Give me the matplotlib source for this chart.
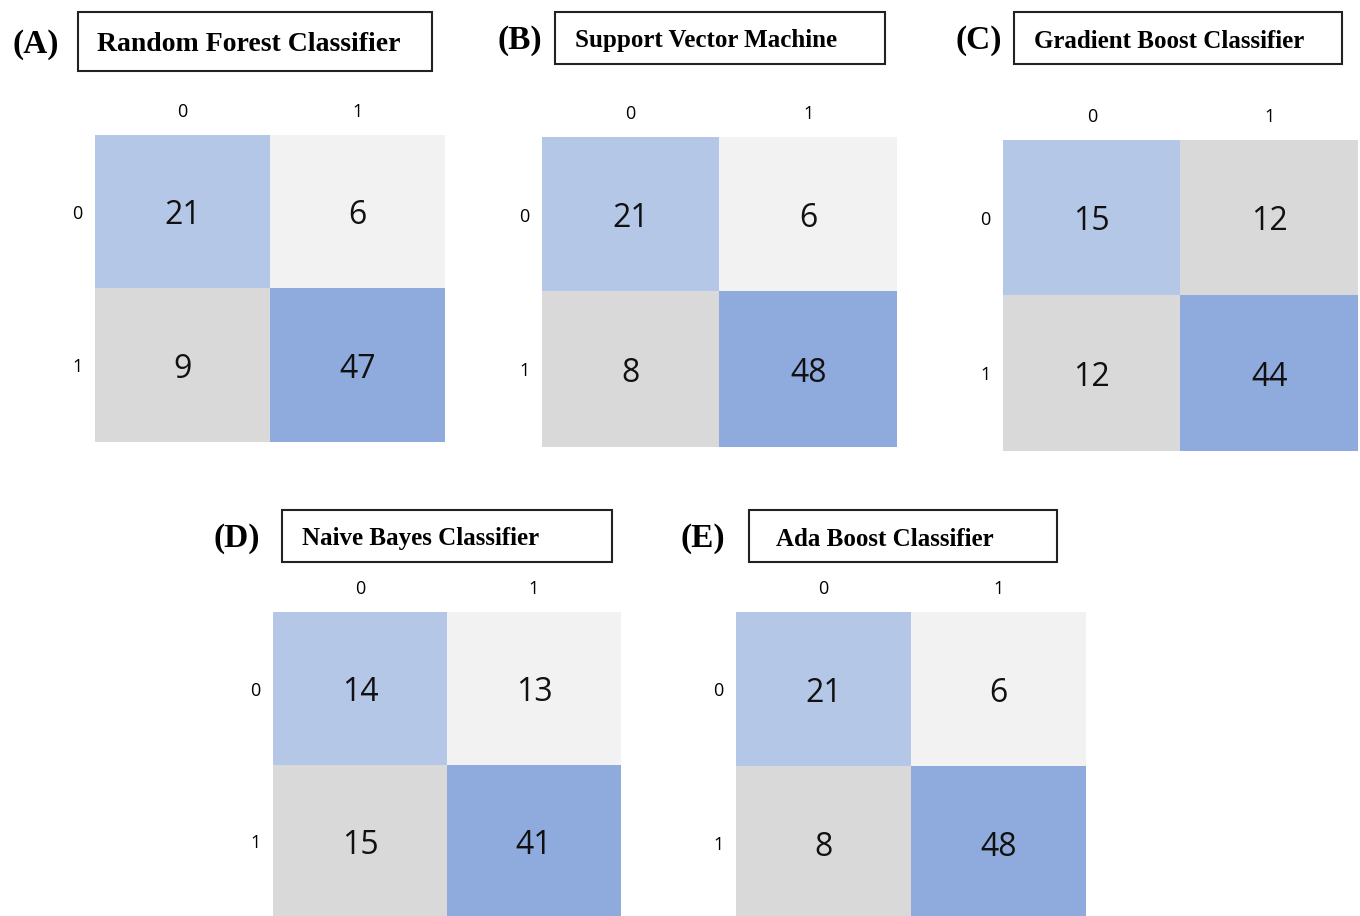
import numpy as np
import matplotlib.pyplot as plt
from matplotlib.colors import ListedColormap
from matplotlib.patches import Rectangle

W, H = 1360, 916

# confusion matrices, rows = actual, cols = predicted
labels = ['(A)', '(B)', '(C)', '(D)', '(E)']
names = ['Random Forest Classifier', 'Support Vector Machine', 'Gradient Boost Classifier',
         'Naive Bayes Classifier', 'Ada Boost Classifier']
rf = [[21, 6], [9, 47]]
svm = [[21, 6], [8, 48]]
gb = [[15, 12], [12, 44]]
nb = [[14, 13], [15, 41]]
ada = [[21, 6], [8, 48]]
mats = [rf, svm, gb, nb, ada]
ticks = ['0', '1']

# cell shading: 0 light blue, 1 near white, 2 grey, 3 blue
cell_cmap = ListedColormap(['#b4c7e7', '#f2f2f2', '#d9d9d9', '#8faadc'])
shade = [[[0, 1], [2, 3]],
         [[0, 1], [2, 3]],
         [[0, 2], [2, 3]],
         [[0, 1], [2, 3]],
         [[0, 1], [2, 3]]]

# pixel boxes: grid (left, top, right, bottom), title box (left, top, right, bottom)
grids = [(95, 135, 445, 442), (542, 137, 897, 447), (1003, 140, 1358, 451),
         (273, 612, 621, 918), (736, 612, 1086, 920)]
boxes = [(78, 12, 432, 71), (555, 12, 885, 64), (1014, 12, 1342, 64),
         (282, 510, 612, 562), (749, 510, 1057, 562)]
letter_x = [36, 520, 979, 237, 703]
name_pad = [19, 20, 20, 20, 27]
name_size = [20, 18, 18, 18, 18]

fig = plt.figure(figsize=(W / 100, H / 100), dpi=100)


def fx(px):
    return px / W


def fy(py):
    return 1 - py / H


for i in range(5):
    l, t, r, b = grids[i]
    ax = fig.add_axes([fx(l), fy(b), fx(r) - fx(l), fy(t) - fy(b)])
    ax.imshow(np.array(shade[i]), cmap=cell_cmap, vmin=0, vmax=3, aspect='auto')
    m = mats[i]
    for row in range(2):
        for col in range(2):
            ax.text(col, row, str(m[row][col]), ha='center', va='center_baseline',
                    fontsize=23, family='Open Sans', color='#111111')
    ax.xaxis.tick_top()
    ax.set_xticks([0, 1])
    ax.set_xticklabels(ticks, family='Open Sans', fontsize=13)
    ax.set_yticks([0, 1])
    ax.set_yticklabels(ticks, family='Open Sans', fontsize=13)
    ax.tick_params(length=0, pad=9)
    ax.tick_params(axis='x', pad=10)
    for s in ax.spines.values():
        s.set_visible(False)

    bl, bt, br, bb = boxes[i]
    mid = (bt + bb) / 2 + 3
    fig.patches.append(Rectangle((fx(bl), fy(bb)), fx(br) - fx(bl), fy(bt) - fy(bb),
                                 transform=fig.transFigure, fill=False,
                                 edgecolor='#222222', linewidth=1.5))
    fig.text(fx(bl + name_pad[i]), fy(mid), names[i], ha='left', va='center',
             fontsize=name_size[i], fontweight='bold', family='Liberation Serif')
    fig.text(fx(letter_x[i]), fy(mid), labels[i], ha='center', va='center',
             fontsize=24, fontweight='bold', family='Liberation Serif')

fig.savefig('out.png', dpi=100)
